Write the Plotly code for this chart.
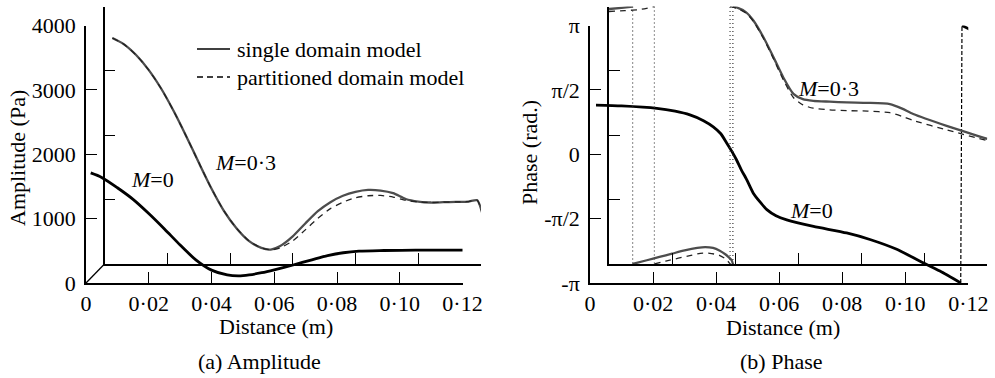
import math
import plotly.graph_objects as go

PI = math.pi
W, H = 995, 378
FONT = "Liberation Serif"

# ---------------- data: (a) amplitude ----------------
dist_amp_m0 = [0.0015, 0.005, 0.010, 0.015, 0.020, 0.025, 0.030, 0.035, 0.040, 0.045, 0.0486,
               0.052, 0.056, 0.060, 0.066, 0.072, 0.077, 0.082, 0.087, 0.095, 0.105, 0.1203]
amp_m0 = [1710, 1640, 1480, 1300, 1080, 840, 590, 360, 200, 125, 110,
          125, 160, 205, 280, 360, 425, 470, 495, 505, 510, 510]

dist_amp_m03 = [0.0025, 0.006, 0.010, 0.014, 0.018, 0.022, 0.026, 0.030, 0.034, 0.038, 0.042,
                0.046, 0.050, 0.053, 0.056, 0.060, 0.064, 0.068, 0.072, 0.076, 0.080, 0.084,
                0.088, 0.092, 0.096, 0.100, 0.104, 0.108, 0.112, 0.116, 0.1188, 0.1204]
amp_m03_single = [3510, 3420, 3250, 3020, 2730, 2380, 1990, 1580, 1180, 830, 560,
                  360, 250, 225, 280, 430, 630, 820, 960, 1060, 1120, 1150,
                  1140, 1100, 1010, 970, 955, 960, 965, 970, 990, 790]
amp_m03_part = [3510, 3420, 3250, 3020, 2730, 2380, 1990, 1580, 1180, 830, 560,
                360, 250, 220, 250, 360, 530, 710, 860, 960, 1030, 1060,
                1065, 1040, 990, 965, 955, 960, 965, 970, 990, 790]

# ---------------- data: (b) phase ----------------
dist_ph_m0 = [0.0019, 0.010, 0.0212, 0.027, 0.0317, 0.036, 0.0391, 0.0415, 0.0434, 0.045, 0.0465,
              0.048, 0.0497, 0.0518, 0.0540, 0.0561, 0.059, 0.0624, 0.0709, 0.0814, 0.0888,
              0.0973, 0.1047, 0.1110, 0.1176, 0.1180, 0.1207]
ph_m0 = [1.20, 1.18, 1.12, 1.05, 0.96, 0.82, 0.67, 0.50, 0.27, 0.07, -0.14,
         -0.38, -0.62, -0.95, -1.17, -1.35, -1.50, -1.60, -1.76, -1.92, -2.08,
         -2.32, -2.61, -2.85, -3.14, 3.14, 3.04]

dist_ph_m03_single = [0.0, 0.004, 0.0075, 0.0075, 0.012, 0.016, 0.020, 0.024, 0.028, 0.0305, 0.033,
                      0.035, 0.037, 0.0389, 0.0393, 0.0393, 0.0405, 0.0435, 0.0458, 0.049, 0.0522,
                      0.0553, 0.0585, 0.0615, 0.0648, 0.070, 0.0754, 0.082, 0.0891, 0.093, 0.0965,
                      0.1071, 0.1200]
ph_m03_single = [3.08, 3.11, 3.14, -3.14, -3.05, -2.97, -2.89, -2.81, -2.75, -2.73, -2.75,
                 -2.81, -2.91, -3.05, -3.14, 3.14, 3.12, 3.00, 2.80, 2.39, 1.90,
                 1.41, 1.01, 0.88, 0.84, 0.82, 0.80, 0.79, 0.76, 0.65, 0.52,
                 0.23, -0.09]

dist_ph_m03_part = [0.0, 0.005, 0.010, 0.0144, 0.0144, 0.018, 0.022, 0.026, 0.0289, 0.032, 0.035,
                    0.0372, 0.0384, 0.0384, 0.0405, 0.0435, 0.0458, 0.049, 0.0522, 0.0553, 0.0585,
                    0.0615, 0.0648, 0.070, 0.0754, 0.082, 0.0891, 0.093, 0.0965, 0.1071, 0.1200]
ph_m03_part = [3.02, 3.04, 3.07, 3.14, -3.14, -3.07, -3.00, -2.93, -2.88, -2.88, -2.93,
               -3.03, -3.14, 3.14, 3.10, 2.98, 2.78, 2.36, 1.86, 1.35, 0.92,
               0.74, 0.66, 0.62, 0.60, 0.59, 0.55, 0.46, 0.36, 0.13, -0.13]

# ---------------- tick labels / legend ----------------
x_ticks = [0, 0.02, 0.04, 0.06, 0.08, 0.10, 0.12]
x_ticktext = ["0", "0·02", "0·04", "0·06", "0·08", "0·10", "0·12"]
amp_ticks = [0, 1000, 2000, 3000, 4000]
amp_ticktext = ["0", "1000", "2000", "3000", "4000"]
ph_ticks = [-PI, -PI / 2, 0, PI / 2, PI]
ph_ticktext = ["-π", "-π/2", "0", "π/2", "π"]
legend_names = ["single domain model", "partitioned domain model"]


def split_wraps(xs, ys):
    """Break a wrapped phase series at the jumps; also return the jump segments."""
    bx, by, cx, cy = [], [], [], []
    for i, (x, y) in enumerate(zip(xs, ys)):
        if i > 0 and abs(y - ys[i - 1]) > PI:
            bx.append(None); by.append(None)
            cx += [xs[i - 1], x, None]; cy += [ys[i - 1], y, None]
        bx.append(x); by.append(y)
    return bx, by, cx, cy


fig = go.Figure()
GRAY = "#4d4d4d"
SPL = dict(shape="spline", smoothing=0.6)

# (a) amplitude, M=0.3 on back frame
fig.add_trace(go.Scatter(x=dist_amp_m03, y=amp_m03_single, mode="lines",
                         line=dict(color=GRAY, width=2.3, **SPL), xaxis="x2", yaxis="y2"))
fig.add_trace(go.Scatter(x=dist_amp_m03, y=amp_m03_part, mode="lines",
                         line=dict(color="#222", width=1.3, dash="6px,5px", **SPL),
                         xaxis="x2", yaxis="y2"))
# (a) amplitude, M=0 on front frame
fig.add_trace(go.Scatter(x=dist_amp_m0, y=amp_m0, mode="lines",
                         line=dict(color="black", width=2.8, shape="spline", smoothing=0.8),
                         xaxis="x", yaxis="y"))

# (b) phase, M=0.3 on back frame
bx, by, cx, cy = split_wraps(dist_ph_m03_single, ph_m03_single)
fig.add_trace(go.Scatter(x=bx, y=by, mode="lines", connectgaps=False,
                         line=dict(color=GRAY, width=2.3, **SPL), xaxis="x4", yaxis="y4"))
fig.add_trace(go.Scatter(x=cx, y=cy, mode="lines",
                         line=dict(color="#333", width=1.2, dash="1px,3px"), xaxis="x4", yaxis="y4"))
bx, by, cx, cy = split_wraps(dist_ph_m03_part, ph_m03_part)
fig.add_trace(go.Scatter(x=bx, y=by, mode="lines", connectgaps=False,
                         line=dict(color="#222", width=1.3, dash="6px,5px", **SPL),
                         xaxis="x4", yaxis="y4"))
fig.add_trace(go.Scatter(x=cx, y=cy, mode="lines",
                         line=dict(color="#444", width=1.2, dash="1px,3px"), xaxis="x4", yaxis="y4"))

# (b) phase, M=0 on front frame
bx, by, cx, cy = split_wraps(dist_ph_m0, ph_m0)
fig.add_trace(go.Scatter(x=bx, y=by, mode="lines", connectgaps=False,
                         line=dict(color="black", width=2.8, **SPL), xaxis="x3", yaxis="y3"))
fig.add_trace(go.Scatter(x=cx, y=cy, mode="lines",
                         line=dict(color="black", width=1.2, dash="4px,2px"), xaxis="x3", yaxis="y3"))


# ---------------- frames (front + offset back frame) ----------------
def hdom(p0, p1):
    return [p0 / W, p1 / W]


def vdom(top, bottom):
    return [1 - bottom / H, 1 - top / H]


FRONT_A_X, BACK_A_X = (86, 462.5), (104.5, 481)
FRONT_B_X, BACK_B_X = (590, 968.3), (609, 987.3)
FRONT_Y, BACK_Y = (25.5, 283), (6.5, 264)

common = dict(showline=True, linecolor="black", linewidth=1.6, ticks="inside", ticklen=11,
              tickwidth=1.3, tickcolor="black", showgrid=False, zeroline=False, fixedrange=True,
              automargin=False, tickfont=dict(family=FONT, size=22, color="black"))

fig.update_layout(
    template="none",
    xaxis=dict(common, domain=hdom(*FRONT_A_X), anchor="y", range=[0, 0.12],
               tickmode="array", tickvals=x_ticks, ticktext=x_ticktext),
    yaxis=dict(common, domain=vdom(*FRONT_Y), anchor="x", range=[0, 4000],
               tickmode="array", tickvals=amp_ticks, ticktext=amp_ticktext, ticklabelstandoff=4),
    xaxis2=dict(common, domain=hdom(*BACK_A_X), anchor="y2", range=[0, 0.12],
                tickmode="array", tickvals=x_ticks[1:], showticklabels=False),
    yaxis2=dict(common, domain=vdom(*BACK_Y), anchor="x2", range=[0, 4000],
                tickmode="array", tickvals=amp_ticks[1:], showticklabels=False),
    xaxis3=dict(common, domain=hdom(*FRONT_B_X), anchor="y3", range=[0, 0.12],
                tickmode="array", tickvals=x_ticks, ticktext=x_ticktext),
    yaxis3=dict(common, domain=vdom(*FRONT_Y), anchor="x3", range=[-PI, PI],
                tickmode="array", tickvals=ph_ticks, ticktext=ph_ticktext, ticklabelstandoff=4),
    xaxis4=dict(common, domain=hdom(*BACK_B_X), anchor="y4", range=[0, 0.12],
                tickmode="array", tickvals=x_ticks[1:], showticklabels=False),
    yaxis4=dict(common, domain=vdom(*BACK_Y), anchor="x4", range=[-PI, PI],
                tickmode="array", tickvals=ph_ticks[1:], showticklabels=False),
)

# perspective connector between front and back origins in panel (a)
fig.add_shape(type="line", xref="paper", yref="paper",
              x0=FRONT_A_X[0] / W, y0=1 - FRONT_Y[1] / H, x1=BACK_A_X[0] / W, y1=1 - BACK_Y[1] / H,
              line=dict(color="black", width=1.3))

# legend (drawn as keys + text)
LEG_X0, LEG_X1, LEG_Y = 197, 230, (49, 77)
fig.add_shape(type="line", xref="paper", yref="paper", x0=LEG_X0 / W, x1=LEG_X1 / W,
              y0=1 - LEG_Y[0] / H, y1=1 - LEG_Y[0] / H, line=dict(color="black", width=1.6))
fig.add_shape(type="line", xref="paper", yref="paper", x0=LEG_X0 / W, x1=LEG_X1 / W,
              y0=1 - LEG_Y[1] / H, y1=1 - LEG_Y[1] / H, line=dict(color="black", width=1.6, dash="6px,4px"))

ann_font = dict(family=FONT, size=22, color="black")
annotations = [
    dict(text="<i>M</i>=0", x=0.0212, y=1603, xref="x", yref="y"),
    dict(text="<i>M</i>=0·3", x=0.0448, y=1572, xref="x2", yref="y2"),
    dict(text="<i>M</i>=0", x=0.0703, y=-1.38, xref="x3", yref="y3"),
    dict(text="<i>M</i>=0·3", x=0.0695, y=1.14, xref="x4", yref="y4"),
    dict(text="Amplitude (Pa)", x=18 / W, y=1 - 158 / H, xref="paper", yref="paper", textangle=-90),
    dict(text="Phase (rad.)", x=529 / W, y=1 - 153 / H, xref="paper", yref="paper", textangle=-90),
    dict(text="Distance (m)", x=276 / W, y=1 - 326 / H, xref="paper", yref="paper"),
    dict(text="Distance (m)", x=783 / W, y=1 - 327 / H, xref="paper", yref="paper"),
    dict(text="(a) Amplitude", x=259 / W, y=1 - 361 / H, xref="paper", yref="paper"),
    dict(text="(b) Phase", x=781 / W, y=1 - 361 / H, xref="paper", yref="paper"),
]
for a in annotations:
    a.update(xanchor="center")
for name, ly in zip(legend_names, LEG_Y):
    annotations.append(dict(text=name, x=(LEG_X1 + 5) / W, y=1 - ly / H, xref="paper", yref="paper",
                            xanchor="left"))
for a in annotations:
    a.update(showarrow=False, font=ann_font, yanchor="middle")
fig.update_layout(annotations=annotations)

fig.update_layout(
    width=W, height=H, margin=dict(l=0, r=0, t=0, b=0, pad=0),
    paper_bgcolor="white", plot_bgcolor="rgba(0,0,0,0)",
    font=dict(family=FONT, size=22, color="black"),
    showlegend=False,
)

fig.write_html("out.html")
